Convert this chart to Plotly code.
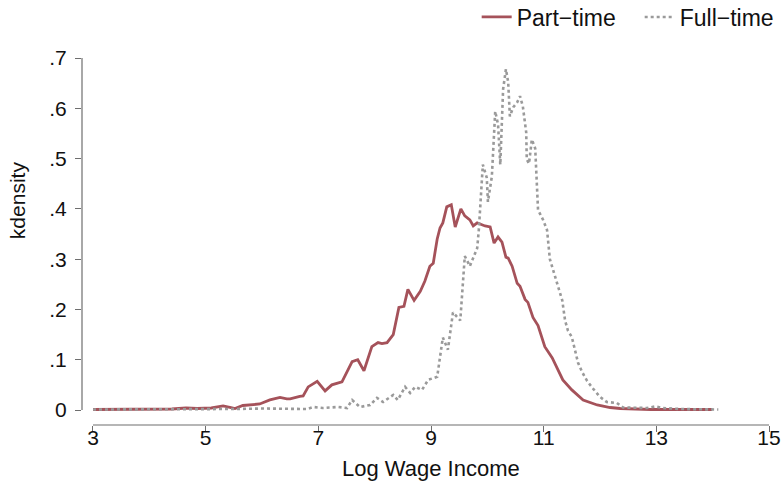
import plotly.graph_objects as go

# Part-time kernel density
part_x = [3.0, 3.5, 4.0, 4.4, 4.65, 4.85, 5.1, 5.31, 5.45, 5.52, 5.66, 5.96, 6.14, 6.32, 6.44, 6.50,
          6.67, 6.73, 6.82, 6.98, 7.12, 7.24, 7.42, 7.60, 7.70, 7.81, 7.95, 8.06, 8.13, 8.22, 8.33,
          8.43, 8.52, 8.59, 8.70, 8.81, 8.89, 8.98, 9.04, 9.11, 9.16, 9.21, 9.28, 9.36, 9.43, 9.53,
          9.60, 9.69, 9.75, 9.82, 9.87, 9.96, 10.05, 10.12, 10.19, 10.26, 10.33, 10.37, 10.44, 10.53,
          10.58, 10.67, 10.72, 10.81, 10.90, 11.02, 11.15, 11.24, 11.34, 11.50, 11.70, 11.95, 12.18,
          12.36, 12.9, 13.4, 13.99]
part_y = [0.001, 0.001, 0.002, 0.002, 0.004, 0.003, 0.004, 0.008, 0.005, 0.003, 0.009, 0.012, 0.020,
          0.025, 0.022, 0.022, 0.027, 0.028, 0.046, 0.057, 0.038, 0.050, 0.056, 0.096, 0.100, 0.078,
          0.126, 0.134, 0.132, 0.134, 0.150, 0.204, 0.206, 0.240, 0.218, 0.236, 0.256, 0.286, 0.292,
          0.340, 0.362, 0.372, 0.404, 0.408, 0.364, 0.400, 0.386, 0.378, 0.366, 0.372, 0.370, 0.366,
          0.364, 0.332, 0.344, 0.334, 0.304, 0.302, 0.286, 0.252, 0.246, 0.220, 0.214, 0.184, 0.168,
          0.126, 0.104, 0.084, 0.060, 0.040, 0.020, 0.010, 0.005, 0.003, 0.001, 0.001, 0.001]

# Full-time kernel density
full_x = [3.0, 4.0, 5.0, 5.5, 6.0, 6.32, 6.80, 6.91, 7.08, 7.35, 7.51, 7.60, 7.74, 7.92, 8.04, 8.15,
          8.33, 8.41, 8.54, 8.63, 8.72, 8.84, 8.95, 9.11, 9.21, 9.30, 9.39, 9.52, 9.60, 9.69, 9.82,
          9.85, 9.89, 9.92, 9.99, 10.01, 10.08, 10.14, 10.19, 10.23, 10.28, 10.33, 10.37, 10.40,
          10.46, 10.53, 10.58, 10.63, 10.69, 10.70, 10.74, 10.79, 10.85, 10.88, 10.90, 10.99, 11.06,
          11.11, 11.17, 11.25, 11.33, 11.38, 11.43, 11.50, 11.56, 11.61, 11.68, 11.77, 11.88, 12.00,
          12.12, 12.30, 12.41, 12.59, 12.83, 12.98, 13.12, 13.42, 13.90, 14.10]
full_y = [0.001, 0.001, 0.001, 0.002, 0.003, 0.002, 0.002, 0.006, 0.004, 0.006, 0.004, 0.020, 0.006,
          0.010, 0.024, 0.016, 0.030, 0.020, 0.046, 0.034, 0.046, 0.040, 0.060, 0.066, 0.144, 0.120,
          0.194, 0.178, 0.306, 0.286, 0.322, 0.360, 0.430, 0.488, 0.462, 0.414, 0.464, 0.594, 0.568,
          0.488, 0.638, 0.678, 0.652, 0.584, 0.602, 0.612, 0.624, 0.604, 0.552, 0.498, 0.490, 0.538,
          0.520, 0.444, 0.398, 0.378, 0.358, 0.300, 0.278, 0.252, 0.218, 0.178, 0.158, 0.145, 0.120,
          0.094, 0.076, 0.058, 0.042, 0.026, 0.016, 0.014, 0.005, 0.004, 0.004, 0.007, 0.004, 0.002,
          0.001, 0.001]

x_ticks = [3, 5, 7, 9, 11, 13, 15]
y_ticks = [0, 0.1, 0.2, 0.3, 0.4, 0.5, 0.6, 0.7]
y_tick_text = ["0", ".1", ".2", ".3", ".4", ".5", ".6", ".7"]

FONT = "Liberation Sans, Arial, sans-serif"
AXIS_COLOR = "#6e6e6e"

fig = go.Figure()
fig.add_trace(go.Scatter(x=part_x, y=part_y, mode="lines", name="Part\u2212time",
                         line=dict(color="#a5525a", width=2.8)))
fig.add_trace(go.Scatter(x=full_x, y=full_y, mode="lines", name="Full\u2212time",
                         line=dict(color="#9a9a9a", width=2.6, dash="dot")))

fig.update_layout(
    width=783, height=490,
    margin=dict(l=82, r=11, t=50, b=65, autoexpand=False),
    paper_bgcolor="white", plot_bgcolor="white",
    font=dict(family=FONT, size=21, color="#111111"),
    showlegend=True,
    legend=dict(orientation="h", x=0.572, xanchor="left", y=1.088, yanchor="middle",
                font=dict(size=23), itemwidth=30, entrywidth=118,
                bgcolor="rgba(0,0,0,0)"),
    xaxis=dict(range=[2.805, 15.053], tickvals=x_ticks, showgrid=False, zeroline=False,
               showline=False, ticks="outside", ticklen=6, tickcolor=AXIS_COLOR,
               ticklabelstandoff=-12, automargin=False),
    yaxis=dict(range=[-0.0298, 0.7159], tickvals=y_ticks, ticktext=y_tick_text,
               showgrid=False, zeroline=False, showline=False, ticks="outside", ticklen=6,
               tickcolor=AXIS_COLOR, ticklabelstandoff=4, automargin=False),
    shapes=[
        dict(type="line", xref="x", yref="paper", x0=3, x1=15, y0=0, y1=0,
             line=dict(color=AXIS_COLOR, width=1.2)),
        dict(type="line", xref="paper", yref="y", x0=0, x1=0, y0=0, y1=0.7,
             line=dict(color=AXIS_COLOR, width=1.2)),
    ],
    annotations=[
        dict(text="Log Wage Income", xref="paper", yref="paper", x=0.506, y=-0.1147,
             xanchor="center", yanchor="middle", showarrow=False, font=dict(size=22)),
        dict(text="kdensity", xref="paper", yref="paper", x=-0.094, y=0.6, textangle=-90,
             xanchor="center", yanchor="middle", showarrow=False, font=dict(size=21)),
    ],
)

# Remove the browser's default 8px body margin so the figure sits at the window origin.
fig.write_html("out.html", config={"displayModeBar": False},
               post_script="document.body.style.margin='0';")
